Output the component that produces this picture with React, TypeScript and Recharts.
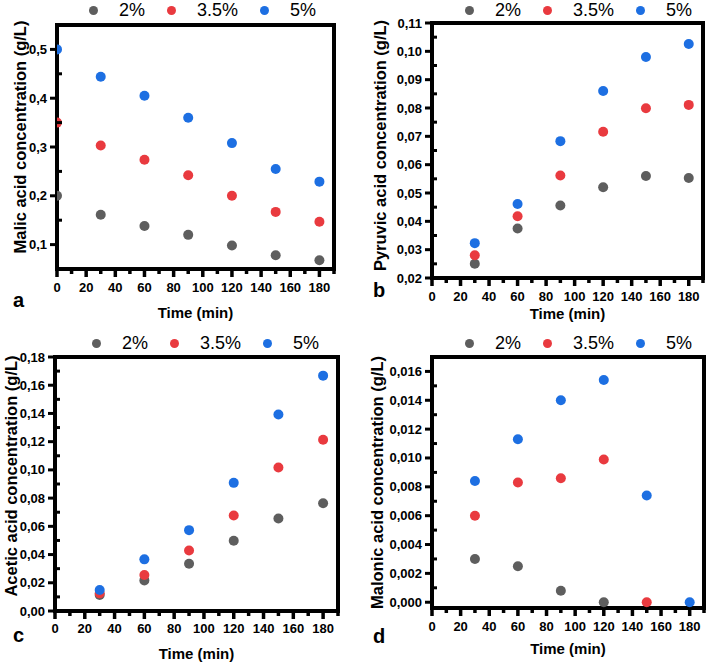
import React from 'react';
import { ScatterChart, Scatter, XAxis, YAxis, Label, ReferenceArea } from 'recharts';

const FONT = '"Liberation Sans", Arial, Helvetica, sans-serif';

const seriesNames = ['2%', '3.5%', '5%'];
const seriesColors = ['#5e5e5e', '#e93a3f', '#1d6fe2'];

// time points (min)
const timeFull = [0, 30, 60, 90, 120, 150, 180];
const timeLate = [30, 60, 90, 120, 150, 180];

const xMajor = [0, 20, 40, 60, 80, 100, 120, 140, 160, 180];
const xMinor = [10, 30, 50, 70, 90, 110, 130, 150, 170, 190];

// a - malic acid
const malic2 = [0.2, 0.161, 0.138, 0.12, 0.098, 0.078, 0.068];
const malic35 = [0.35, 0.303, 0.274, 0.242, 0.2, 0.167, 0.147];
const malic5 = [0.5, 0.444, 0.405, 0.36, 0.308, 0.255, 0.229];
const malicMajor = [0.1, 0.2, 0.3, 0.4, 0.5];
const malicMinor = [0.15, 0.25, 0.35, 0.45];

// b - pyruvic acid
const pyruvic2 = [0.025, 0.0375, 0.0456, 0.052, 0.056, 0.0553];
const pyruvic35 = [0.028, 0.0418, 0.0562, 0.0716, 0.0799, 0.0811];
const pyruvic5 = [0.0323, 0.0461, 0.0683, 0.086, 0.098, 0.1026];
const pyruvicMajor = [0.02, 0.03, 0.04, 0.05, 0.06, 0.07, 0.08, 0.09, 0.1, 0.11];
const pyruvicMinor = [0.025, 0.035, 0.045, 0.055, 0.065, 0.075, 0.085, 0.095, 0.105];

// c - acetic acid
const acetic2 = [0.0113, 0.0217, 0.0335, 0.0498, 0.0656, 0.0764];
const acetic35 = [0.0125, 0.0255, 0.0429, 0.0677, 0.1017, 0.1213];
const acetic5 = [0.0149, 0.0366, 0.0573, 0.0908, 0.1392, 0.1668];
const aceticMajor = [0, 0.02, 0.04, 0.06, 0.08, 0.1, 0.12, 0.14, 0.16, 0.18];
const aceticMinor = [0.01, 0.03, 0.05, 0.07, 0.09, 0.11, 0.13, 0.15, 0.17];

// d - malonic acid
const malonic2 = [0.003, 0.0025, 0.0008, 0];
const malonic35 = [0.006, 0.0083, 0.0086, 0.0099, 0];
const malonic5 = [0.0084, 0.0113, 0.014, 0.0154, 0.0074, 0];
const malonicMajor = [0, 0.002, 0.004, 0.006, 0.008, 0.01, 0.012, 0.014, 0.016];
const malonicMinor = [0.001, 0.003, 0.005, 0.007, 0.009, 0.011, 0.013, 0.015];

const pts = (times: number[], vals: number[]) => vals.map((v, i) => ({ t: times[i], v }));

const panels = [
  {
    key: 'a', letter: 'a', title: 'Malic acid concentration (g/L)',
    series: [pts(timeFull, malic2), pts(timeFull, malic35), pts(timeFull, malic5)],
    yDomain: [0.05, 0.55], yMajor: malicMajor, yMinor: malicMinor, digits: 1,
    left: 0, top: 0, w: 355, h: 330, mTop: 25, mRight: 21, yW: 57, xH: 61,
    legendX: 89, legendY: 0, xTitleDy: 43, yTitleDx: 37, yTitleDy: -10, tickDy: 18,
    letterX: 13, letterY: 290,
  },
  {
    key: 'b', letter: 'b', title: 'Pyruvic acid concentration (g/L)',
    series: [pts(timeLate, pyruvic2), pts(timeLate, pyruvic35), pts(timeLate, pyruvic5)],
    yDomain: [0.02, 0.11], yMajor: pyruvicMajor, yMinor: pyruvicMinor, digits: 2,
    left: 355, top: 0, w: 354, h: 330, mTop: 23, mRight: 6, yW: 77, xH: 52,
    legendX: 110, legendY: 0, xTitleDy: 35, yTitleDx: 52, yTitleDy: -5, tickDy: 18,
    letterX: 18, letterY: 280,
  },
  {
    key: 'c', letter: 'c', title: 'Acetic acid concentration (g/L)',
    series: [pts(timeLate, acetic2), pts(timeLate, acetic35), pts(timeLate, acetic5)],
    yDomain: [0, 0.18], yMajor: aceticMajor, yMinor: aceticMinor, digits: 2,
    left: 0, top: 330, w: 355, h: 333, mTop: 27, mRight: 17, yW: 55, xH: 52,
    legendX: 92, legendY: 3, xTitleDy: 42, yTitleDx: 44, yTitleDy: -8, tickDy: 17,
    letterX: 13, letterY: 295,
  },
  {
    key: 'd', letter: 'd', title: 'Malonic acid concentration (g/L)',
    series: [pts(timeLate, malonic2), pts(timeLate, malonic35), pts(timeLate, malonic5)],
    yDomain: [-0.0004, 0.017], yMajor: malonicMajor, yMinor: malonicMinor, digits: 3,
    left: 355, top: 330, w: 354, h: 333, mTop: 27, mRight: 5, yW: 77, xH: 55,
    legendX: 110, legendY: 3, xTitleDy: 40, yTitleDx: 55, yTitleDy: 0, tickDy: 18,
    letterX: 18, letterY: 296,
  },
];

const tickText = { fontFamily: FONT, fontSize: 13, fontWeight: 700, fill: '#000' };

function LegendRow({ x, y }: { x: number; y: number }) {
  return (
    <div style={{ position: 'absolute', left: x, top: y, height: 20, display: 'flex', alignItems: 'center', fontFamily: FONT, fontSize: 18, lineHeight: '20px', whiteSpace: 'nowrap' }}>
      {seriesNames.map((n, i) => (
        <React.Fragment key={n}>
          <span style={{ display: 'inline-block', width: 9, height: 9, borderRadius: '50%', background: seriesColors[i], marginLeft: i ? 22 : 0, marginRight: 21 }} />
          <span>{n}</span>
        </React.Fragment>
      ))}
    </div>
  );
}

function Panel({ p }: { p: any }) {
  const yTicks = [...p.yMajor, ...p.yMinor].sort((a, b) => a - b);
  const xTicks = [...xMajor, ...xMinor].sort((a, b) => a - b);

  // x ticks point down (outside), minor ones shorter
  const xTick = (props: any) => {
    const { x, y, payload } = props;
    const major = xMajor.includes(payload.value);
    return (
      <g>
        <path d={`M${x},${y} V${y + (major ? 8 : 5)}`} stroke="#000" strokeWidth={3.5} fill="none" />
        {major && (
          <text x={x} y={y + p.tickDy} textAnchor="middle" dominantBaseline="central" {...tickText}>
            {payload.value}
          </text>
        )}
      </g>
    );
  };

  // y: major ticks outside, minor ticks inside
  const yTick = (props: any) => {
    const { x, y, payload } = props;
    const major = p.yMajor.includes(payload.value);
    return (
      <g>
        <path d={major ? `M${x - 7},${y} H${x}` : `M${x},${y} H${x + 5}`} stroke="#000" strokeWidth={3} fill="none" />
        {major && (
          <text x={x - 10} y={y} textAnchor="end" dominantBaseline="central" {...tickText}>
            {payload.value.toFixed(p.digits).replace('.', ',')}
          </text>
        )}
      </g>
    );
  };

  return (
    <div style={{ position: 'absolute', left: p.left, top: p.top, width: p.w, height: p.h }}>
      <ScatterChart width={p.w} height={p.h} margin={{ top: p.mTop, right: p.mRight, bottom: 0, left: 0 }}>
        <XAxis
          dataKey="t" type="number" domain={[0, 190]} allowDataOverflow ticks={xTicks} interval={0}
          height={p.xH} tickSize={0} tickMargin={0} tickLine={false} tick={xTick} axisLine={false}
        >
          <Label
            content={(lp: any) => {
              const vb = lp.viewBox;
              return (
                <text x={vb.x + vb.width / 2} y={vb.y + p.xTitleDy} textAnchor="middle" dominantBaseline="central"
                  fontFamily={FONT} fontSize={15} fontWeight={700} fill="#000">
                  Time (min)
                </text>
              );
            }}
          />
        </XAxis>
        <YAxis
          dataKey="v" type="number" domain={p.yDomain} allowDataOverflow ticks={yTicks} interval={0}
          width={p.yW} tickSize={0} tickMargin={0} tickLine={false} tick={yTick} axisLine={false}
        >
          <Label
            content={(lp: any) => {
              const vb = lp.viewBox;
              const cx = vb.x + vb.width - p.yTitleDx;
              const cy = vb.y + vb.height / 2 + p.yTitleDy;
              return (
                <text x={cx} y={cy} transform={`rotate(-90 ${cx} ${cy})`} textAnchor="middle" dominantBaseline="central"
                  fontFamily={FONT} fontSize={16.5} fontWeight={700} fill="#000">
                  {p.title}
                </text>
              );
            }}
          />
        </YAxis>
        {p.series.map((d: any[], i: number) => (
          <Scatter
            key={seriesNames[i]}
            name={seriesNames[i]}
            data={d}
            fill={seriesColors[i]}
            isAnimationActive={false}
            shape={(s: any) => <circle cx={s.cx} cy={s.cy} r={5} fill={seriesColors[i]} />}
          />
        ))}
        {/* plot frame */}
        <ReferenceArea
          x1={0} x2={190} y1={p.yDomain[0]} y2={p.yDomain[1]}
          fill="none" fillOpacity={0} stroke="#000" strokeWidth={4} strokeOpacity={1} ifOverflow="visible"
        />
      </ScatterChart>
      <LegendRow x={p.legendX} y={p.legendY} />
      <div style={{ position: 'absolute', left: p.letterX, top: p.letterY, fontFamily: FONT, fontSize: 20, fontWeight: 700, lineHeight: '20px' }}>
        {p.letter}
      </div>
    </div>
  );
}

export default function App() {
  return (
    <div style={{ position: 'absolute', left: 0, top: 0, width: 709, height: 663, background: '#fff' }}>
      {panels.map((p) => (
        <Panel key={p.key} p={p} />
      ))}
    </div>
  );
}
